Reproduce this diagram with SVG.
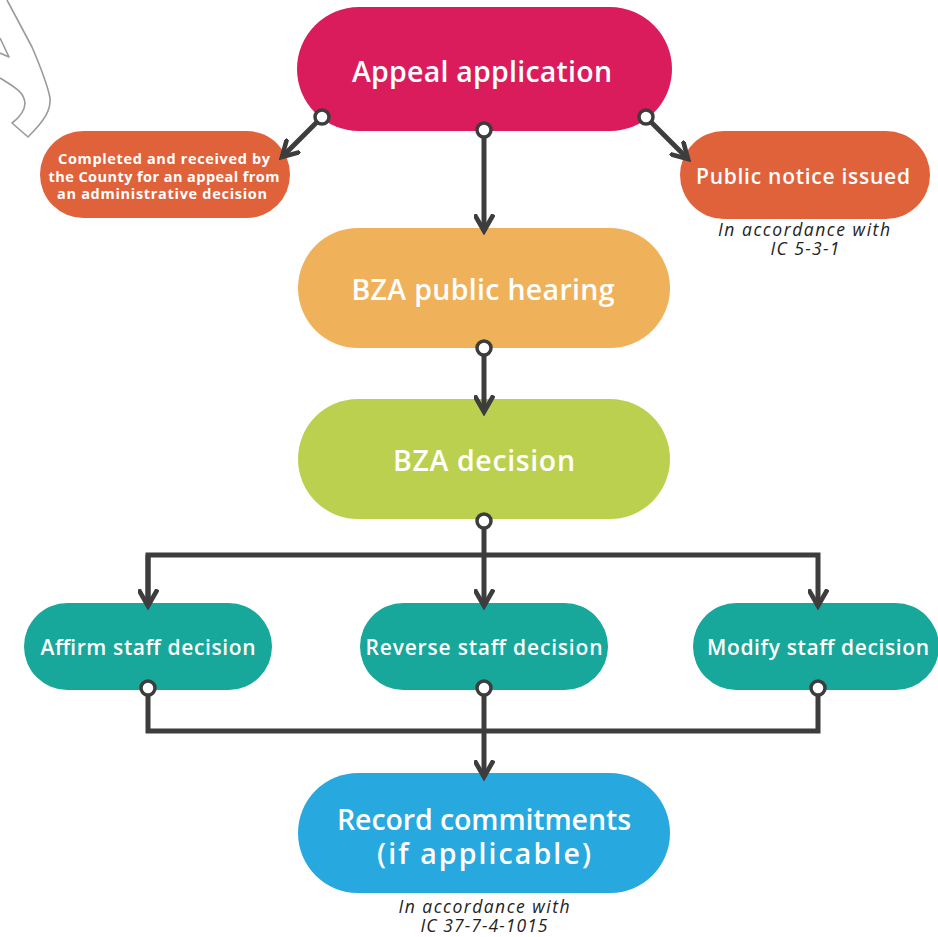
<svg xmlns="http://www.w3.org/2000/svg" width="938" height="937" viewBox="0 0 938 937">
  <defs>
    <marker id="arrow" viewBox="0 0 10 10" refX="8" refY="5" markerWidth="4.2" markerHeight="4.2" markerUnits="strokeWidth" orient="auto">
      <path d="M1,1 L8,5 L1,9" fill="none" stroke="#3d3d3d" stroke-width="2.2" stroke-linecap="square" stroke-linejoin="miter"/>
    </marker>
    <style>
      .t { font-family: "Open Sans", Lato, "Liberation Sans", sans-serif; fill: #ffffff; text-anchor: middle; font-weight: 600; }
      .big { font-size: 28.5px; }
      .mid { font-size: 21px; }
      .small { font-size: 14.5px; font-weight: 700; }
      .note { font-family: "Open Sans", Lato, "Liberation Sans", sans-serif; font-style: italic; font-size: 17.5px; fill: #222222; text-anchor: middle; }
      .line { fill: none; stroke: #3d3d3d; stroke-width: 5; stroke-linejoin: miter; }
      .dot { fill: #ffffff; stroke: #3d3d3d; stroke-width: 3.5; }
    </style>
  </defs>
  <rect width="938" height="937" fill="#ffffff"/>

  <!-- corner sketch -->
  <g fill="none" stroke="#9a9a9a" stroke-width="1.6" stroke-linejoin="round">
    <path d="M7,0 L32,47 C40,66 47,82 50,98 C51,110 45,120 28,137 L12,123 C20,117 25,110 25,103 C24,94 20,90 0,78"/>
    <path d="M0,38 L9,57 L0,53"/>
  </g>

  <!-- nodes -->
  <g id="appeal">
    <rect x="297" y="7" width="375" height="124" rx="62" fill="#da1c5c"/>
    <text class="t big" x="482" y="82" textLength="260">Appeal application</text>
  </g>
  <g id="completed">
    <rect x="40" y="131" width="250" height="87" rx="43.5" fill="#e0623b"/>
    <text class="t small" x="164" y="164" textLength="212">Completed and received by</text>
    <text class="t small" x="164" y="181.5" textLength="231">the County for an appeal from</text>
    <text class="t small" x="162" y="199" textLength="210">an administrative decision</text>
  </g>
  <g id="notice">
    <rect x="680" y="131" width="250" height="88" rx="44" fill="#e0623b"/>
    <text class="t mid" x="803" y="184" textLength="214">Public notice issued</text>
    <text class="note" x="804" y="236" textLength="172">In accordance with</text>
    <text class="note" x="805" y="254.5" textLength="69">IC 5-3-1</text>
  </g>
  <g id="hearing">
    <rect x="298" y="228" width="372" height="120" rx="60" fill="#f0b15b"/>
    <text class="t big" x="483" y="300" textLength="263">BZA public hearing</text>
  </g>
  <g id="decision">
    <rect x="298" y="399" width="372" height="120" rx="60" fill="#bbd04f"/>
    <text class="t big" x="484" y="471" textLength="182">BZA decision</text>
  </g>
  <g id="affirm">
    <rect x="24" y="603" width="248" height="87" rx="43.5" fill="#17a79b"/>
    <text class="t mid" x="148" y="655" textLength="215">Affirm staff decision</text>
  </g>
  <g id="reverse">
    <rect x="360" y="603" width="248" height="87" rx="43.5" fill="#17a79b"/>
    <text class="t mid" x="484" y="655" textLength="237">Reverse staff decision</text>
  </g>
  <g id="modify">
    <rect x="693" y="603" width="246" height="87" rx="43.5" fill="#17a79b"/>
    <text class="t mid" x="818" y="655" textLength="222">Modify staff decision</text>
  </g>
  <g id="record">
    <rect x="298" y="773" width="372" height="120" rx="60" fill="#27a9e0"/>
    <text class="t big" x="484" y="830" textLength="294">Record commitments</text>
    <text class="t big" x="484" y="864" textLength="214">(if applicable)</text>
    <text class="note" x="484" y="913" textLength="171">In accordance with</text>
    <text class="note" x="484" y="932" textLength="127">IC 37-7-4-1015</text>
  </g>

  <!-- connectors -->
  <g id="connectors">
    <path class="line" d="M322,117 L282,157" marker-end="url(#arrow)"/>
    <path class="line" d="M646,117 L688,159" marker-end="url(#arrow)"/>
    <path class="line" d="M484,130 L484,231" marker-end="url(#arrow)"/>
    <path class="line" d="M484,348 L484,412" marker-end="url(#arrow)"/>
    <path class="line" d="M484,521 L484,606" marker-end="url(#arrow)"/>
    <path class="line" d="M148,606 L148,555 L818,555 L818,606" marker-end="url(#arrow)"/>
    <path class="line" d="M148,555 L148,606" marker-end="url(#arrow)"/>
    <path class="line" d="M148,688 L148,731 L818,731 L818,688"/>
    <path class="line" d="M484,688 L484,777" marker-end="url(#arrow)"/>

    <circle class="dot" cx="322" cy="117" r="7"/>
    <circle class="dot" cx="646" cy="117" r="7"/>
    <circle class="dot" cx="484" cy="130" r="7"/>
    <circle class="dot" cx="484" cy="348" r="7"/>
    <circle class="dot" cx="484" cy="521" r="7"/>
    <circle class="dot" cx="148" cy="688" r="7"/>
    <circle class="dot" cx="484" cy="688" r="7"/>
    <circle class="dot" cx="818" cy="688" r="7"/>
  </g>
</svg>
